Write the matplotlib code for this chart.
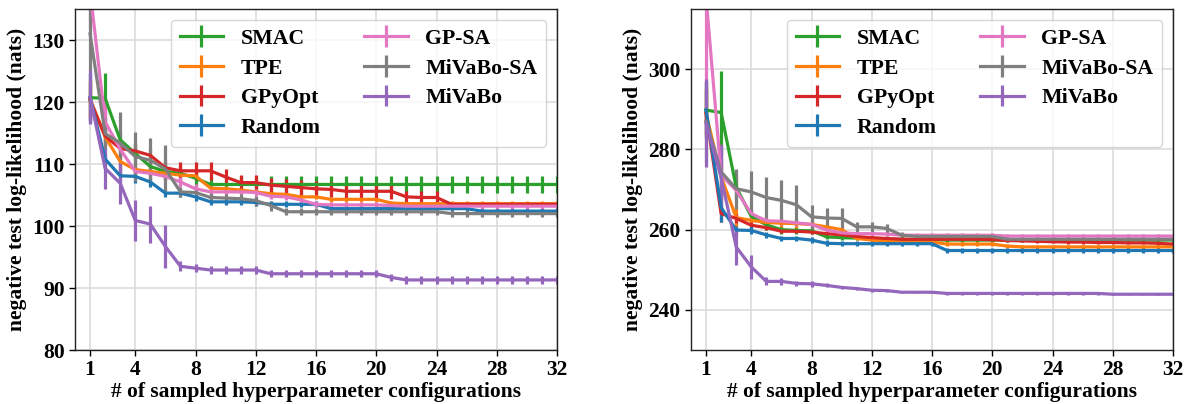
import matplotlib
matplotlib.use("Agg")
import matplotlib.pyplot as plt
import numpy as np

plt.rcParams['font.family'] = ['Liberation Serif', 'DejaVu Serif']
plt.rcParams['font.weight'] = 'bold'

x = list(range(1, 33))
xticks = [1, 4, 8, 12, 16, 20, 24, 28, 32]
labels = ["SMAC", "TPE", "GPyOpt", "Random", "GP-SA", "MiVaBo-SA", "MiVaBo"]
colors = ["#2ca02c", "#ff7f0e", "#d62728", "#1f77b4", "#e377c2", "#7f7f7f", "#9467bd"]

# ---------------- left panel ----------------
smac_l = [120.7, 120.6, 113.9, 111.7, 109.6, 108.8, 108.5, 107.7, 106.7, 106.7, 106.7, 106.7, 106.7, 106.7, 106.7, 106.7,
          106.7, 106.7, 106.7, 106.7, 106.7, 106.7, 106.7, 106.7, 106.7, 106.7, 106.7, 106.7, 106.7, 106.7, 106.7, 106.7]
smac_l_err = [4.0, 4.0, 1.5, 1.5, 1.4, 1.4, 1.4, 1.4, 1.4, 1.4, 1.4, 1.4, 1.4, 1.4, 1.4, 1.4,
              1.4, 1.4, 1.4, 1.4, 1.4, 1.4, 1.4, 1.4, 1.4, 1.4, 1.4, 1.4, 1.4, 1.4, 1.4, 1.4]
tpe_l = [120.5, 114.4, 110.4, 109.1, 108.8, 108.5, 108.2, 108.1, 106.1, 106.0, 105.8, 105.5, 105.2, 105.1, 104.7, 104.7,
         104.3, 104.3, 104.3, 104.3, 103.7, 103.6, 103.6, 103.6, 103.6, 103.6, 103.6, 103.6, 103.6, 103.6, 103.6, 103.6]
tpe_l_err = [3.0, 1.5, 1.2, 1.0, 0.8, 0.6, 0.5, 0.5, 0.4, 0.4, 0.4, 0.4, 0.4, 0.4, 0.4, 0.4,
             0.4, 0.4, 0.4, 0.4, 0.4, 0.4, 0.4, 0.4, 0.4, 0.4, 0.4, 0.4, 0.4, 0.4, 0.4, 0.4]
gpyopt_l = [120.3, 114.5, 112.5, 112.1, 111.4, 109.4, 108.9, 108.9, 108.9, 107.9, 107.0, 107.0, 106.6, 106.4, 106.2, 106.0,
            105.9, 105.6, 105.6, 105.6, 105.6, 104.7, 104.6, 104.6, 103.5, 103.5, 103.5, 103.5, 103.5, 103.5, 103.5, 103.5]
gpyopt_l_err = [3.0, 1.5, 1.2, 1.2, 1.2, 1.2, 1.5, 1.5, 1.5, 1.3, 1.2, 1.2, 1.2, 1.2, 1.2, 1.2,
                1.2, 1.2, 1.2, 1.2, 1.2, 1.0, 1.0, 1.0, 0.4, 0.4, 0.4, 0.4, 0.4, 0.4, 0.4, 0.4]
random_l = [120.7, 110.8, 108.1, 108.0, 107.1, 105.3, 105.3, 104.7, 103.9, 103.9, 103.9, 103.8, 103.5, 103.5, 103.5, 103.5,
            102.8, 102.8, 102.8, 102.8, 102.8, 102.8, 102.8, 102.8, 102.8, 102.8, 102.4, 102.4, 102.4, 102.4, 102.4, 102.4]
random_l_err = [4.0, 1.0, 1.0, 1.0, 0.8, 0.6, 0.6, 0.6, 0.5, 0.5, 0.5, 0.5, 0.5, 0.5, 0.5, 0.5,
                0.5, 0.5, 0.5, 0.5, 0.5, 0.5, 0.5, 0.5, 0.5, 0.5, 0.5, 0.5, 0.5, 0.5, 0.5, 0.5]
gpsa_l = [138.0, 116.8, 112.4, 108.8, 108.5, 108.0, 107.1, 106.0, 105.5, 105.5, 105.5, 105.4, 104.8, 104.7, 104.2, 103.5,
          103.4, 103.4, 103.4, 103.4, 103.3, 103.2, 103.2, 103.2, 103.2, 103.2, 103.2, 103.2, 103.2, 103.2, 103.2, 103.2]
gpsa_l_err = [6.0, 3.5, 1.2, 1.2, 1.0, 0.8, 0.8, 0.8, 0.6, 0.5, 0.5, 0.5, 0.5, 0.5, 0.5, 0.5,
              0.5, 0.5, 0.5, 0.5, 0.5, 0.5, 0.5, 0.5, 0.5, 0.5, 0.5, 0.5, 0.5, 0.5, 0.5, 0.5]
mivabosa_l = [131.0, 114.9, 113.4, 111.2, 110.6, 109.2, 105.5, 105.4, 104.6, 104.5, 104.4, 104.1, 103.3, 102.3, 102.3, 102.3,
              102.3, 102.3, 102.3, 102.3, 102.3, 102.3, 102.3, 102.3, 102.0, 102.0, 102.0, 102.0, 102.0, 102.0, 102.0, 102.0]
mivabosa_l_err = [6.0, 2.5, 5.0, 4.0, 3.6, 3.8, 0.8, 0.8, 0.7, 0.7, 0.7, 0.8, 0.8, 0.6, 0.6, 0.6,
                  0.6, 0.6, 0.6, 0.6, 0.6, 0.6, 0.6, 0.6, 0.6, 0.6, 0.6, 0.6, 0.6, 0.6, 0.6, 0.6]
mivabo_l = [120.8, 109.3, 106.9, 100.9, 100.3, 96.7, 93.5, 93.2, 92.9, 92.9, 92.9, 92.9, 92.3, 92.3, 92.3, 92.3,
            92.3, 92.3, 92.3, 92.3, 91.7, 91.3, 91.3, 91.3, 91.3, 91.3, 91.3, 91.3, 91.3, 91.3, 91.3, 91.3]
mivabo_l_err = [4.3, 3.3, 3.3, 3.3, 3.0, 3.5, 0.8, 0.6, 0.6, 0.6, 0.6, 0.6, 0.6, 0.6, 0.6, 0.6,
                0.6, 0.6, 0.6, 0.6, 0.6, 0.6, 0.6, 0.6, 0.6, 0.6, 0.6, 0.6, 0.6, 0.6, 0.6, 0.6]

# ---------------- right panel ----------------
smac_r = [289.8, 289.2, 270.6, 263.3, 261.2, 260.0, 259.8, 259.7, 258.2, 258.0, 257.9, 257.8, 257.7, 257.6, 257.5, 257.5,
          257.4, 257.4, 257.4, 257.4, 257.4, 257.4, 257.4, 257.4, 257.4, 257.4, 257.4, 257.4, 257.4, 257.4, 257.4, 257.4]
smac_r_err = [7.0, 10.3, 3.0, 1.5, 1.2, 1.0, 0.8, 0.8, 0.6, 0.6, 0.6, 0.6, 0.6, 0.6, 0.6, 0.6,
              0.6, 0.6, 0.6, 0.6, 0.6, 0.6, 0.6, 0.6, 0.6, 0.6, 0.6, 0.6, 0.6, 0.6, 0.6, 0.6]
tpe_r = [289.0, 273.2, 263.0, 262.3, 261.8, 261.6, 261.5, 261.3, 260.7, 260.0, 257.8, 257.4, 257.1, 256.9, 256.9, 256.9,
         256.4, 256.4, 256.4, 256.4, 255.9, 255.7, 255.7, 255.7, 255.7, 255.7, 255.7, 255.7, 255.7, 255.7, 255.7, 255.7]
tpe_r_err = [6.0, 4.0, 2.5, 1.2, 1.0, 1.0, 1.0, 1.0, 0.8, 0.6, 0.4, 0.4, 0.4, 0.4, 0.4, 0.4,
             0.4, 0.4, 0.4, 0.4, 0.4, 0.4, 0.4, 0.4, 0.4, 0.4, 0.4, 0.4, 0.4, 0.4, 0.4, 0.4]
gpyopt_r = [289.0, 264.0, 262.8, 261.1, 260.5, 259.6, 259.6, 259.4, 259.0, 258.7, 258.3, 258.0, 257.8, 257.6, 257.6, 257.6,
            257.6, 257.6, 257.6, 257.5, 257.3, 257.2, 257.1, 257.0, 256.9, 256.9, 256.8, 256.8, 256.7, 256.7, 256.6, 256.4]
gpyopt_r_err = [6.0, 2.0, 1.2, 0.8, 0.7, 0.5, 0.5, 0.5, 0.4, 0.4, 0.4, 0.4, 0.4, 0.4, 0.4, 0.4,
                0.4, 0.4, 0.4, 0.4, 0.4, 0.4, 0.4, 0.4, 0.4, 0.4, 0.4, 0.4, 0.4, 0.4, 0.4, 0.4]
random_r = [289.8, 265.5, 259.9, 259.8, 258.7, 257.8, 257.8, 257.4, 256.6, 256.5, 256.5, 256.5, 256.5, 256.5, 256.5, 256.5,
            254.8, 254.8, 254.8, 254.8, 254.8, 254.8, 254.8, 254.8, 254.8, 254.8, 254.8, 254.8, 254.8, 254.8, 254.8, 254.8]
random_r_err = [6.0, 3.5, 1.0, 1.0, 0.8, 0.7, 0.7, 0.7, 0.7, 0.7, 0.7, 0.7, 0.7, 0.7, 0.7, 0.7,
                0.7, 0.7, 0.7, 0.7, 0.7, 0.7, 0.7, 0.7, 0.7, 0.7, 0.7, 0.7, 0.7, 0.7, 0.7, 0.7]
gpsa_r = [318.0, 273.6, 269.8, 264.0, 262.2, 262.1, 261.7, 261.3, 259.9, 259.2, 259.0, 259.0, 258.9, 258.6, 258.6, 258.6,
          258.6, 258.6, 258.6, 258.6, 258.4, 258.4, 258.4, 258.4, 258.4, 258.4, 258.4, 258.4, 258.4, 258.4, 258.4, 258.4]
gpsa_r_err = [22.0, 6.0, 2.0, 1.2, 1.0, 1.0, 0.8, 0.8, 0.6, 0.5, 0.5, 0.5, 0.5, 0.5, 0.5, 0.5,
              0.5, 0.5, 0.5, 0.5, 0.5, 0.5, 0.5, 0.5, 0.5, 0.5, 0.5, 0.5, 0.5, 0.5, 0.5, 0.5]
mivabosa_r = [287.0, 274.4, 270.2, 269.4, 268.0, 267.3, 266.2, 263.2, 262.9, 262.8, 260.7, 260.7, 260.3, 258.6, 258.3, 258.3,
              258.3, 258.3, 258.3, 258.3, 257.6, 257.6, 257.6, 257.6, 257.6, 257.6, 257.6, 257.6, 257.6, 257.6, 257.6, 257.6]
mivabosa_r_err = [10.0, 7.0, 5.0, 5.2, 5.0, 5.0, 5.0, 3.0, 2.5, 2.5, 1.2, 1.2, 1.2, 0.8, 0.6, 0.6,
                  0.6, 0.6, 0.6, 0.6, 0.6, 0.6, 0.6, 0.6, 0.6, 0.6, 0.6, 0.6, 0.6, 0.6, 0.6, 0.6]
mivabo_r = [286.5, 273.0, 255.7, 250.7, 247.1, 247.1, 246.6, 246.5, 246.1, 245.6, 245.3, 244.9, 244.8, 244.4, 244.4, 244.4,
            244.1, 244.1, 244.1, 244.1, 244.1, 244.1, 244.1, 244.1, 244.1, 244.1, 244.1, 243.9, 243.9, 243.9, 243.9, 243.9]
mivabo_r_err = [11.0, 8.0, 4.6, 3.1, 1.0, 0.9, 0.7, 0.7, 0.5, 0.4, 0.4, 0.4, 0.3, 0.3, 0.3, 0.3,
                0.3, 0.3, 0.3, 0.3, 0.3, 0.3, 0.3, 0.3, 0.3, 0.3, 0.3, 0.3, 0.3, 0.3, 0.3, 0.3]

left_series = [(smac_l, smac_l_err), (tpe_l, tpe_l_err), (gpyopt_l, gpyopt_l_err), (random_l, random_l_err),
               (gpsa_l, gpsa_l_err), (mivabosa_l, mivabosa_l_err), (mivabo_l, mivabo_l_err)]
right_series = [(smac_r, smac_r_err), (tpe_r, tpe_r_err), (gpyopt_r, gpyopt_r_err), (random_r, random_r_err),
                (gpsa_r, gpsa_r_err), (mivabosa_r, mivabosa_r_err), (mivabo_r, mivabo_r_err)]

W, H = 1187, 404
fig = plt.figure(figsize=(W / 100, H / 100), dpi=100)
axL = fig.add_axes([75 / W, 1 - 350 / H, (557 - 75) / W, (350 - 9) / H])
axR = fig.add_axes([691 / W, 1 - 350 / H, (1173 - 691) / W, (350 - 9) / H])

FS_TICK = 15.5
FS_LAB = 15.5
FS_LEG = 15.7
for ax, series, ylim, yticks in [(axL, left_series, (80, 135), [80, 90, 100, 110, 120, 130]),
                                 (axR, right_series, (230, 315), [240, 260, 280, 300])]:
    for (vals, errs), lab, col in zip(series, labels, colors):
        ax.errorbar(x, vals, yerr=errs, color=col, lw=2.3, elinewidth=2.3, capsize=0, label=lab)
    ax.set_xlim(0, 32)
    ax.set_ylim(*ylim)
    ax.set_xticks(xticks)
    ax.set_yticks(yticks)
    ax.grid(True, color='#dcdcdc', lw=1.2)
    ax.set_axisbelow(True)
    ax.tick_params(labelsize=FS_TICK, length=4, width=1)
    for t in ax.get_xticklabels() + ax.get_yticklabels():
        t.set_fontweight('bold')
    for s in ax.spines.values():
        s.set_color('#222222')
        s.set_linewidth(1.0)
    ax.set_xlabel('# of sampled hyperparameter configurations', fontsize=FS_LAB, fontweight='bold', labelpad=1)
    ax.set_ylabel('negative test log-likelihood (nats)', fontsize=FS_LAB, fontweight='bold', labelpad=4)
    leg = ax.legend(ncol=2, loc='upper right', prop={'size': FS_LEG, 'weight': 'bold'},
                    labelspacing=0.43, framealpha=0.8, edgecolor='#cccccc', fancybox=True)

fig.savefig('out.png', dpi=100)
